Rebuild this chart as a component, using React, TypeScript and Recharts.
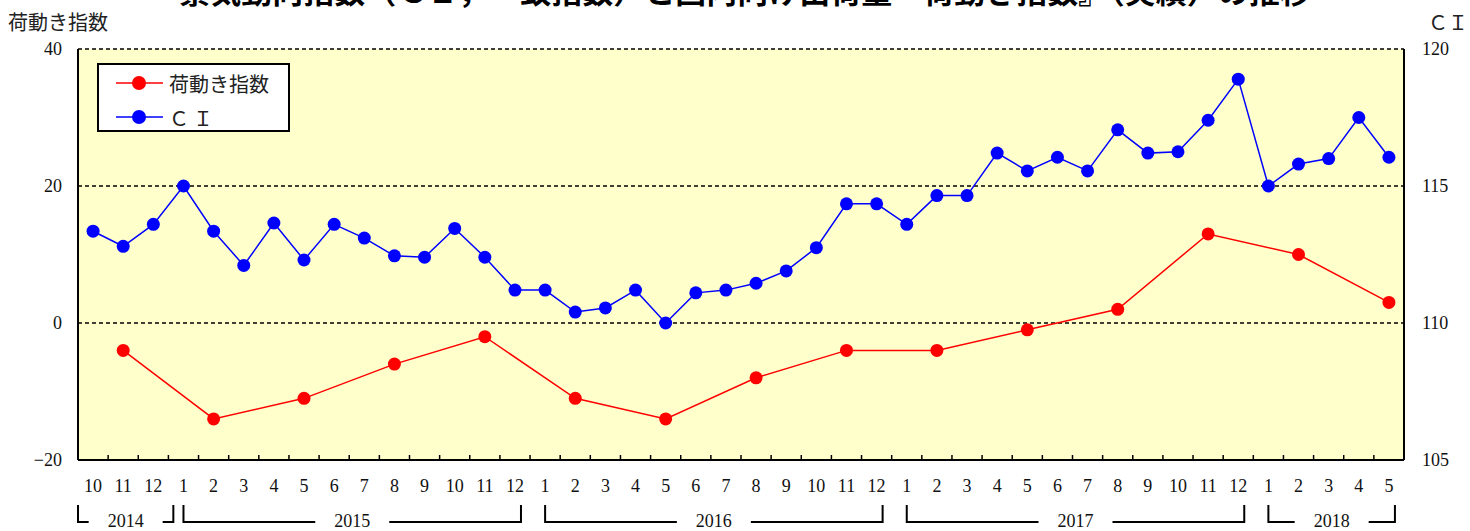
import { LineChart, Line, XAxis, YAxis, CartesianGrid, Legend } from "recharts";

// monthly periods, Oct 2014 - May 2018
const categories = [
  "2014-10", "2014-11", "2014-12",
  "2015-01", "2015-02", "2015-03", "2015-04", "2015-05", "2015-06",
  "2015-07", "2015-08", "2015-09", "2015-10", "2015-11", "2015-12",
  "2016-01", "2016-02", "2016-03", "2016-04", "2016-05", "2016-06",
  "2016-07", "2016-08", "2016-09", "2016-10", "2016-11", "2016-12",
  "2017-01", "2017-02", "2017-03", "2017-04", "2017-05", "2017-06",
  "2017-07", "2017-08", "2017-09", "2017-10", "2017-11", "2017-12",
  "2018-01", "2018-02", "2018-03", "2018-04", "2018-05",
];

// CI (coincident index), right axis
const ciValues = [
  113.35, 112.8, 113.6,
  115.0, 113.35, 112.1, 113.65, 112.3, 113.6, 113.1, 112.45, 112.4, 113.45, 112.4, 111.2,
  111.2, 110.4, 110.55, 111.2, 110.0, 111.1, 111.2, 111.45, 111.9, 112.75, 114.35, 114.35,
  113.6, 114.65, 114.65, 116.2, 115.55, 116.05, 115.55, 117.05, 116.2, 116.25, 117.4, 118.9,
  115.0, 115.8, 116.0, 117.5, 116.05,
];

// 荷動き指数 (quarterly), left axis
const loadIndexValues: (number | null)[] = [
  null, -4, null,
  null, -14, null, null, -11, null, null, -6, null, null, -2, null,
  null, -11, null, null, -14, null, null, -8, null, null, -4, null,
  null, -4, null, null, -1, null, null, 2, null, null, 13, null,
  null, 10, null, null, 3,
];

const leftTicks = [-20, 0, 20, 40];
const rightTicks = [105, 110, 115, 120];

const WIDTH = 1470;
const HEIGHT = 531;
const LEFT_AXIS_W = 78;
const RIGHT_AXIS_W = 66;
const PLOT_W = WIDTH - LEFT_AXIS_W - RIGHT_AXIS_W;
const SPACING = PLOT_W / categories.length;

const SERIF = '"Liberation Serif", "Noto Sans CJK JP", serif';
const JP = '"Noto Sans CJK JP", sans-serif';

const data = categories.map((period, i) => ({
  period,
  ci: ciValues[i],
  load: loadIndexValues[i],
}));

function MonthTick(props: any) {
  const { x, y, payload, index } = props;
  const period: string = payload.value;
  const year = period.slice(0, 4);
  const month = String(Number(period.slice(5)));
  const first = index === 0 || categories[index - 1].slice(0, 4) !== year;

  let bracket = null;
  if (first) {
    const count = categories.filter((c) => c.startsWith(year)).length;
    const left = index === 0 ? x - SPACING / 2 : x;
    const right = x + (count - 1) * SPACING + (index === 0 ? 20 : 6);
    const cx = (left + right) / 2;
    const gap = 37;
    const by = y + 62;
    bracket = (
      <g stroke="#000" strokeWidth={2} fill="none">
        <polyline points={`${left},${y + 45} ${left},${by} ${cx - gap},${by}`} />
        <polyline points={`${cx + gap},${by} ${right},${by} ${right},${y + 45}`} />
        <text
          x={cx}
          y={y + 67}
          textAnchor="middle"
          stroke="none"
          fill="#111"
          fontSize={18}
          fontFamily={SERIF}
        >
          {year}
        </text>
      </g>
    );
  }

  return (
    <g>
      {index > 0 && (
        <line x1={x - SPACING / 2} x2={x - SPACING / 2} y1={y} y2={y - 5} stroke="#000" strokeWidth={1.5} />
      )}
      <text x={x} y={y + 32} textAnchor="middle" fill="#111" fontSize={18} fontFamily={SERIF}>
        {month}
      </text>
      {bracket}
    </g>
  );
}

function LegendBox() {
  const rows = [
    { label: "荷動き指数", color: "#FF0000" },
    { label: "ＣＩ", color: "#0000FF" },
  ];
  return (
    <div
      style={{
        width: 193,
        height: 69,
        boxSizing: "border-box",
        border: "2px solid #000",
        background: "#fff",
        paddingTop: 3,
      }}
    >
      {rows.map((r) => (
        <div key={r.label} style={{ display: "flex", alignItems: "center", height: 30, marginBottom: 4 }}>
          <svg width={70} height={20} style={{ flex: "none" }}>
            <line x1={17} x2={64} y1={10} y2={10} stroke={r.color} strokeWidth={1.5} />
            <circle cx={40} cy={10} r={7} fill={r.color} />
          </svg>
          <span style={{ fontFamily: JP, fontSize: 20, color: "#222", letterSpacing: r.label === "ＣＩ" ? 4 : 0 }}>
            {r.label}
          </span>
        </div>
      ))}
    </div>
  );
}

export default function App() {
  return (
    <div style={{ position: "absolute", left: 0, top: 0, width: WIDTH, height: HEIGHT, background: "#fff" }}>
      <LineChart width={WIDTH} height={HEIGHT} data={data} margin={{ top: 49, right: 0, bottom: 0, left: 0 }}>
        <CartesianGrid
          yAxisId="left"
          vertical={false}
          fill="#FFFFCC"
          stroke="#000"
          strokeDasharray="4 3"
          strokeWidth={1.5}
        />
        <XAxis
          dataKey="period"
          interval={0}
          height={71}
          padding={{ left: SPACING / 2, right: SPACING / 2 }}
          tickLine={false}
          tickSize={0}
          tickMargin={0}
          axisLine={{ stroke: "#000", strokeWidth: 2 }}
          tick={(p: any) => <MonthTick {...p} />}
        />
        <YAxis
          yAxisId="left"
          orientation="left"
          width={LEFT_AXIS_W}
          domain={[-20, 40]}
          ticks={leftTicks}
          tickLine={false}
          tickSize={0}
          tickMargin={16}
          axisLine={{ stroke: "#000", strokeWidth: 2 }}
          tickFormatter={(v: number) => String(v).replace("-", "−")}
          tick={{ fontSize: 18, fill: "#111", fontFamily: SERIF }}
        />
        <YAxis
          yAxisId="right"
          orientation="right"
          width={RIGHT_AXIS_W}
          domain={[105, 120]}
          ticks={rightTicks}
          tickLine={false}
          tickSize={0}
          tickMargin={18}
          axisLine={{ stroke: "#000", strokeWidth: 2 }}
          tick={{ fontSize: 18, fill: "#111", fontFamily: SERIF }}
        />
        <Legend
          layout="vertical"
          align="center"
          verticalAlign="middle"
          wrapperStyle={{ top: 63, left: 97, width: 193, height: 69 }}
          content={() => <LegendBox />}
        />
        <Line
          yAxisId="right"
          type="linear"
          dataKey="ci"
          stroke="#0000FF"
          strokeWidth={1.5}
          dot={{ r: 6.5, fill: "#0000FF", stroke: "none" }}
          activeDot={false}
          isAnimationActive={false}
        />
        <Line
          yAxisId="left"
          type="linear"
          dataKey="load"
          connectNulls
          stroke="#FF0000"
          strokeWidth={1.5}
          dot={{ r: 6.5, fill: "#FF0000", stroke: "none" }}
          activeDot={false}
          isAnimationActive={false}
        />
      </LineChart>
      <svg
        width={WIDTH}
        height={HEIGHT}
        style={{ position: "absolute", left: 0, top: 0, pointerEvents: "none" }}
      >
        <text x={745} y={3} textAnchor="middle" fontSize={31} fontWeight="bold" fontFamily={JP} fill="#000">
          景気動向指数（ＣＩ，一致指数）と国内向け出荷量『荷動き指数』（実績）の推移
        </text>
        <text x={8} y={30} fontSize={20} fontFamily={JP} fill="#222">
          荷動き指数
        </text>
        <text x={1428} y={30} fontSize={20} fontFamily={JP} fill="#222">
          ＣＩ
        </text>
      </svg>
    </div>
  );
}
